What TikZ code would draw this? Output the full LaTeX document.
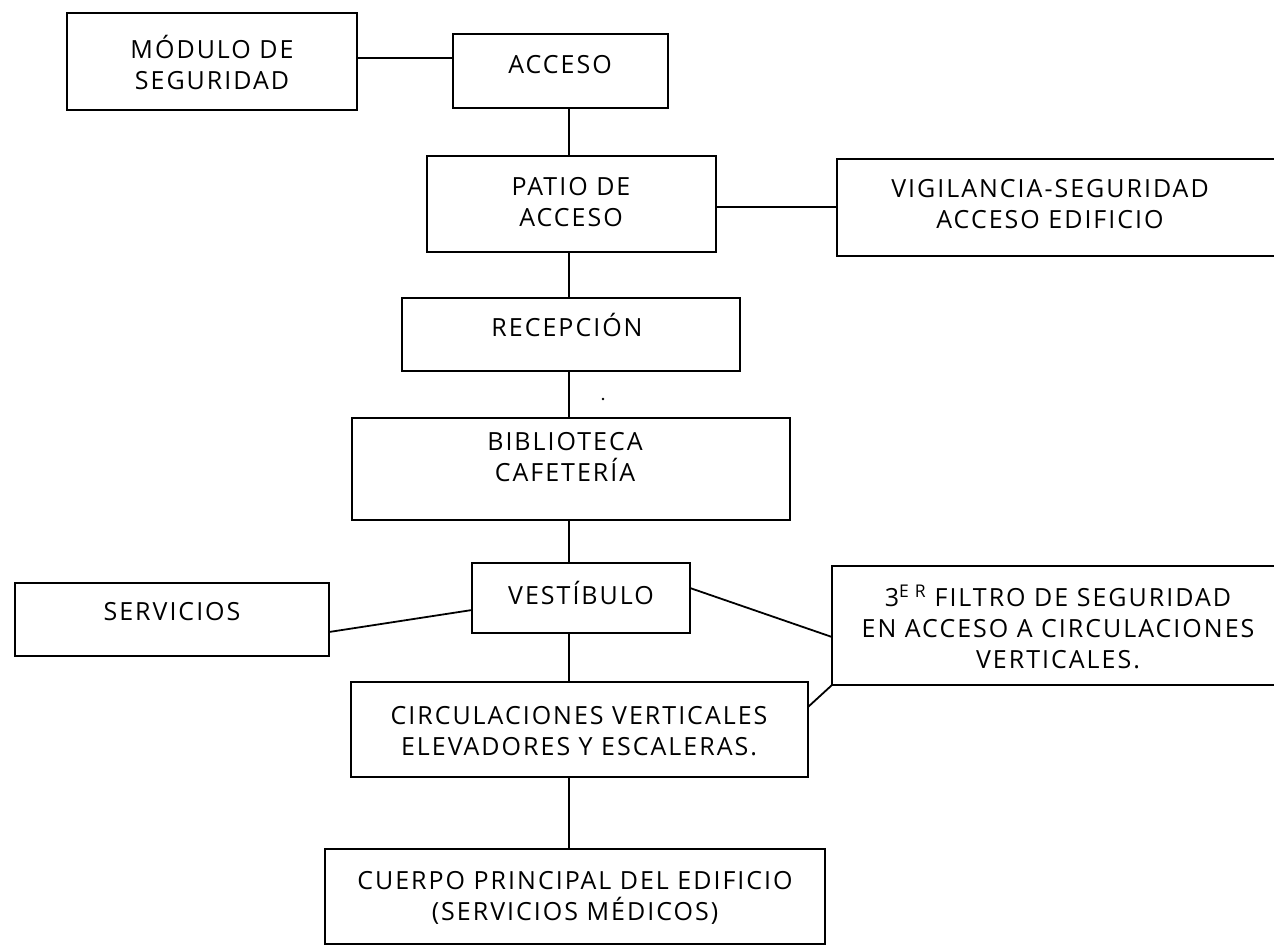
\documentclass[tikz,border=0pt]{standalone}
\usepackage{fontspec}
\setmainfont{Open Sans}[LetterSpace=8]
\begin{document}
\begin{tikzpicture}[x=1pt,y=-1pt,
  box/.style={draw, line width=1.8pt, rectangle, inner sep=0pt, outer sep=0pt},
  lbl/.style={font=\fontsize{25}{31}\selectfont, align=center, inner sep=0pt},
  conn/.style={line width=1.8pt}]
\useasboundingbox (0,0) rectangle (1274,945);
\fill[white] (0,0) rectangle (1274,945);
\clip (0,0) rectangle (1274,945);
% boxes
\node[box, minimum width=290pt, minimum height=97pt] (mod) at (212,61.5) {};
\node[box, minimum width=215pt, minimum height=74pt] (acc) at (560.5,71) {};
\node[box, minimum width=289pt, minimum height=96pt] (pat) at (571.5,204) {};
\node[box, minimum width=453pt, minimum height=97pt] (vig) at (1063.5,207.5) {};
\node[box, minimum width=338pt, minimum height=73pt] (rec) at (571,334.5) {};
\node[box, minimum width=438pt, minimum height=102pt] (bib) at (571,469) {};
\node[box, minimum width=218pt, minimum height=70pt] (ves) at (581,598) {};
\node[box, minimum width=314pt, minimum height=73pt] (ser) at (172,619.5) {};
\node[box, minimum width=458pt, minimum height=119pt] (fil) at (1061,625.5) {};
\node[box, minimum width=457pt, minimum height=95pt] (cir) at (579.5,729.5) {};
\node[box, minimum width=500pt, minimum height=95pt] (cue) at (575,896.5) {};
% texts
\node[lbl] (tmod) at (212,62) {MÓDULO DE\\SEGURIDAD};
\node[lbl] (tacc) at (560,65) {ACCESO};
\node[lbl] (tpat) at (571,202) {PATIO DE\\ACCESO};
\node[lbl] (tvig) at (1050,204) {VIGILANCIA-SEGURIDAD\\ACCESO EDIFICIO};
\node[lbl] (trec) at (567,325) {RECEPCIÓN};
\node[lbl] (tbib) at (565,457) {BIBLIOTECA\\CAFETERÍA};
\node[lbl] (tves) at (581,593) {VESTÍBULO};
\node[lbl] (tser) at (172,612) {SERVICIOS};
\node[lbl] (tfil) at (1058,627) {3\textsuperscript{E\,\,R} FILTRO DE SEGURIDAD\\EN ACCESO A CIRCULACIONES\\VERTICALES.};
\node[lbl] (tcir) at (579,731) {CIRCULACIONES VERTICALES\\ELEVADORES Y ESCALERAS.};
\node[lbl] (tcue) at (575,898) {CUERPO PRINCIPAL DEL EDIFICIO\\(SERVICIOS MÉDICOS)};
% helper coordinates
\coordinate (sp) at (569,0);
\coordinate (h1) at (0,58);
\coordinate (h2) at (0,207);
\coordinate (h3) at (0,632);
\coordinate (h4) at (0,610);
\coordinate (h5) at (0,588);
\coordinate (h6) at (0,637);
\coordinate (h7) at (0,707);
% connectors
\draw[conn] (mod.east |- h1) -- (acc.west |- h1);
\draw[conn] (acc.south -| sp) -- (pat.north -| sp);
\draw[conn] (pat.east |- h2) -- (vig.west |- h2);
\draw[conn] (pat.south -| sp) -- (rec.north -| sp);
\draw[conn] (rec.south -| sp) -- (bib.north -| sp);
\draw[conn] (bib.south -| sp) -- (ves.north -| sp);
\draw[conn] (ves.south -| sp) -- (cir.north -| sp);
\draw[conn] (cir.south -| sp) -- (cue.north -| sp);
\draw[conn] (ser.east |- h3) -- (ves.west |- h4);
\draw[conn] (ves.east |- h5) -- (fil.west |- h6);
\draw[conn] (cir.east |- h7) -- (fil.south west);
\fill (603,399) circle (1.3pt);
\end{tikzpicture}
\end{document}
